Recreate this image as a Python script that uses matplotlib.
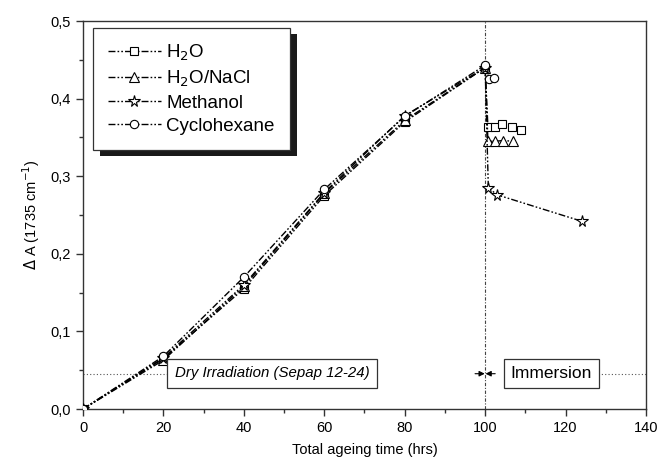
import numpy as np
import matplotlib.pyplot as plt
from matplotlib.ticker import MultipleLocator, FuncFormatter
from matplotlib.patches import Rectangle

plt.rcParams['font.family'] = ['Liberation Sans', 'DejaVu Sans']

# ageing time (hrs) and absorbance increase
t_h2o = [0, 20, 40, 60, 80, 100, 100.7, 102.5, 104.2, 106.7, 109]
a_h2o = [0, 0.065, 0.155, 0.275, 0.370, 0.440, 0.363, 0.364, 0.367, 0.364, 0.360]

t_nacl = [0, 20, 40, 60, 80, 100, 100.7, 102.5, 104.5, 107]
a_nacl = [0, 0.063, 0.158, 0.278, 0.372, 0.440, 0.345, 0.345, 0.346, 0.345]

t_meoh = [0, 20, 40, 60, 80, 100, 100.8, 103, 124]
a_meoh = [0, 0.066, 0.160, 0.279, 0.378, 0.440, 0.285, 0.276, 0.242]

t_cyc = [0, 20, 40, 60, 80, 100, 101, 102.3]
a_cyc = [0, 0.068, 0.170, 0.283, 0.377, 0.443, 0.425, 0.427]

series = [
    (t_h2o, a_h2o, 's', 'H$_2$O'),
    (t_nacl, a_nacl, '^', 'H$_2$O/NaCl'),
    (t_meoh, a_meoh, '*', 'Methanol'),
    (t_cyc, a_cyc, 'o', 'Cyclohexane'),
]
marker_size = {'s': 6, '^': 7, '*': 8.5, 'o': 6}

fig = plt.figure(figsize=(6.62, 4.69), dpi=100)
ax = fig.add_axes([0.1254, 0.1279, 0.8504, 0.8273])

dash = (0, (5, 1.5, 1.2, 1.5, 1.2, 1.5))
for t, a, m, lab in series:
    ax.plot(t, a, linestyle=dash, color='black', lw=1.0, marker=m,
            ms=marker_size[m], mfc='white', mec='black', mew=0.8,
            label=lab, zorder=3)

# separation between dry irradiation and immersion
ax.plot([100, 100], [0, 0.5], linestyle=(0, (3, 1.5, 1, 1.5)),
        color='#444444', lw=0.8, zorder=2)
ax.hlines(0.045, 0, 24, colors='#555555', linestyles=(0, (1, 2)), lw=0.8)
ax.hlines(0.045, 128, 140, colors='#555555', linestyles=(0, (1, 2)), lw=0.8)
ax.annotate('', xy=(99.9, 0.0455), xytext=(97.5, 0.0455),
            arrowprops=dict(arrowstyle='-|>', color='black', lw=0.8,
                            mutation_scale=8, shrinkA=0, shrinkB=0))
ax.annotate('', xy=(100.1, 0.0455), xytext=(102.5, 0.0455),
            arrowprops=dict(arrowstyle='-|>', color='black', lw=0.8,
                            mutation_scale=8, shrinkA=0, shrinkB=0))

ax.text(47, 0.046, 'Dry Irradiation (Sepap 12-24)', fontsize=10.8,
        style='italic', ha='center', va='center',
        bbox=dict(boxstyle='square,pad=0.5', fc='white', ec='#333333', lw=0.9))
ax.text(116.5, 0.046, 'Immersion', fontsize=12.5, ha='center', va='center',
        bbox=dict(boxstyle='square,pad=0.4', fc='white', ec='#333333', lw=0.9))

ax.set_xlim(0, 140)
ax.set_ylim(0, 0.5)
ax.xaxis.set_major_locator(MultipleLocator(20))
ax.xaxis.set_minor_locator(MultipleLocator(10))
ax.yaxis.set_major_locator(MultipleLocator(0.1))
ax.yaxis.set_minor_locator(MultipleLocator(0.05))
ax.yaxis.set_major_formatter(FuncFormatter(lambda v, p: f"{v:.1f}".replace('.', ',')))
ax.tick_params(which='both', direction='out', top=False, right=False,
               labelsize=10.5, color='#333333')
ax.tick_params(which='major', length=5, width=1)
ax.tick_params(which='minor', length=3, width=1)
for s in ax.spines.values():
    s.set_color('#333333')
    s.set_linewidth(1.0)

ax.set_xlabel('Total ageing time (hrs)', fontsize=10.5, labelpad=6)
ax.set_ylabel('$\\Delta$ A (1735 cm$^{-1}$)', fontsize=10.5, labelpad=6)

leg = ax.legend(loc='upper left', bbox_to_anchor=(0.018, 0.982),
                borderaxespad=0, fontsize=13.5, handlelength=2.8,
                handletextpad=0.3, labelspacing=0.3, borderpad=0.8,
                fancybox=False, framealpha=1, edgecolor='#333333')
leg.get_frame().set_linewidth(0.9)

# Origin-style black drop shadow under the legend
fig.canvas.draw()
bb = leg.get_window_extent().transformed(fig.transFigure.inverted())
dx, dy = 7 / 662, 6 / 469
ax.add_patch(Rectangle((bb.x0 + dx, bb.y0 - dy), bb.width, bb.height,
                       transform=fig.transFigure, facecolor='#1a1a1a',
                       edgecolor='none', zorder=4, clip_on=False))
leg.set_zorder(5)

fig.savefig('out.png', dpi=100)
